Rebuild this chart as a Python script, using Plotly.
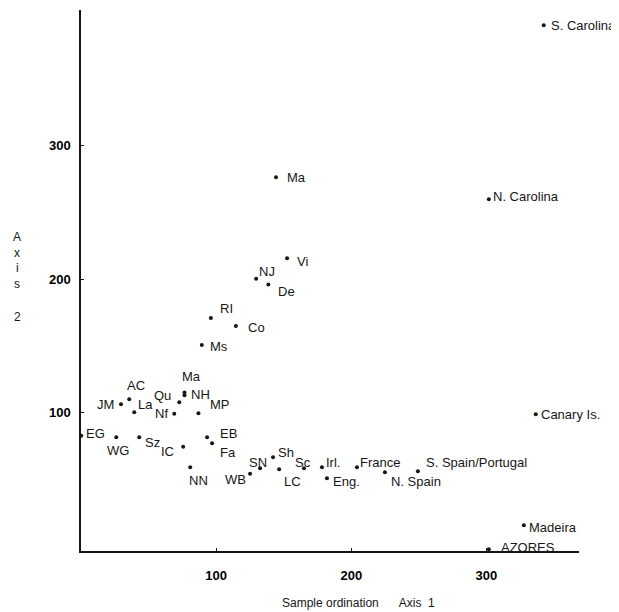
import plotly.graph_objects as go

# ---- data ----
sites = ["S. Carolina", "N. Carolina", "Canary Is.", "Madeira", "AZORES",
         "Ma", "Vi", "NJ", "De", "RI", "Co", "Ms",
         "JM", "AC", "La", "Qu", "Ma ", "NH", "Nf", "MP",
         "EG", "WG", "Sz", "IC", "EB", "Fa", "NN",
         "WB", "SN", "Sh", "LC", "Sc", "Irl.", "Eng.", "France", "N. Spain",
         "S. Spain/Portugal"]
axis1 = [342.4, 301.8, 336.5, 327.7, 301.8,
         144.3, 152.5, 129.6, 138.6, 96.1, 114.6, 89.4,
         29.6, 35.7, 39.4, 72.7, 76.6, 76.6, 69.0, 86.9,
         0.2, 26.1, 43.1, 75.6, 93.3, 97.0, 80.8,
         125.1, 132.5, 142.1, 146.6, 165.0, 178.3, 182.0, 204.2, 224.9,
         249.3]
axis2 = [390.5, 260.0, 98.6, 15.4, -2.6,
         276.4, 215.7, 200.4, 196.0, 170.9, 164.9, 150.6,
         106.1, 109.9, 100.1, 107.6, 114.9, 112.9, 99.0, 99.4,
         82.5, 81.4, 81.4, 74.3, 81.4, 76.9, 58.9,
         54.0, 58.1, 66.4, 57.4, 58.1, 58.9, 50.6, 58.9, 55.1,
         55.9]
x_ticks = [100, 200, 300]
y_ticks = [100, 200, 300]

# ---- label placement (style only): anchor, x shift px, y shift px ----
label_pos = {
    "S. Carolina": ("left", 5, 0), "N. Carolina": ("left", 2, 3),
    "Canary Is.": ("left", 3, 0), "Madeira": ("left", 3, -2),
    "AZORES": ("left", 10, 2), "Ma": ("left", 9, 0), "Vi": ("left", 8, -3),
    "NJ": ("left", 1, 7), "De": ("left", 8, -7), "RI": ("left", 7, 9),
    "Co": ("left", 10, -2), "Ms": ("left", 6, -2), "JM": ("right", -5, 0),
    "AC": ("center", 7, 14), "La": ("left", 2, 8), "Qu": ("right", -6, 7),
    "Ma ": ("center", 7, 16), "NH": ("left", 4, 1), "Nf": ("right", -4, 0),
    "MP": ("left", 10, 9), "EG": ("left", 3, 2), "WG": ("center", 2, -13),
    "Sz": ("left", 4, -5), "IC": ("right", -7, -5), "EB": ("left", 11, 4),
    "Fa": ("left", 6, -9), "NN": ("center", 8, -13), "WB": ("right", -2, -6),
    "SN": ("center", -2, 6), "Sh": ("left", 3, 5), "LC": ("center", 13, -12),
    "Sc": ("center", -1, 6), "Irl.": ("left", 2, 5), "Eng.": ("left", 4, -3),
    "France": ("left", 1, 5), "N. Spain": ("left", 4, -9),
    "S. Spain/Portugal": ("left", 6, 9),
}

FONT = "Liberation Sans, Arial, Helvetica, sans-serif"
INK = "#161616"

fig = go.Figure()
fig.add_trace(go.Scatter(
    x=axis1, y=axis2, mode="markers",
    marker=dict(size=4, color=INK),
    hovertext=[s.strip() for s in sites], hoverinfo="text",
    cliponaxis=False, showlegend=False,
))

annotations = []
for name, xv, yv in zip(sites, axis1, axis2):
    anchor, dx, dy = label_pos[name]
    annotations.append(dict(
        x=xv, y=yv, xref="x", yref="y", text=name.strip(), showarrow=False,
        xanchor=anchor, yanchor="middle", xshift=dx, yshift=dy,
        font=dict(family=FONT, size=13, color=INK),
    ))

# axis titles (positions relative to the plot area, in window pixels)
annotations.append(dict(
    x=(358 - 80.7) / 498.3, y=(551 - 603) / 541, xref="paper", yref="paper",
    text="Sample ordination&nbsp;&nbsp;&nbsp;&nbsp;&nbsp;&nbsp;Axis&nbsp;&nbsp;1",
    showarrow=False, xanchor="center", yanchor="middle",
    font=dict(family=FONT, size=12, color=INK),
))
for ch, py in zip(["A", "x", "i", "s", "2"], [237, 253, 268, 284, 317]):
    annotations.append(dict(
        x=(17 - 80.7) / 498.3, y=(551 - py) / 541, xref="paper", yref="paper",
        text=ch, showarrow=False, xanchor="center", yanchor="middle",
        font=dict(family=FONT, size=12, color=INK),
    ))

# page body has an 8px margin: size/margins compensate so the plot area
# lands where it does in the reference
fig.update_layout(
    width=611, height=604,
    margin=dict(l=73, r=40, t=2, b=61),
    paper_bgcolor="white", plot_bgcolor="white",
    annotations=annotations,
    xaxis=dict(
        range=[0, 368.5], tickvals=x_ticks, ticktext=[str(v) for v in x_ticks],
        showgrid=False, zeroline=False, showline=True, linecolor=INK,
        linewidth=1.5, ticks="inside", ticklen=3, tickcolor=INK,
        tickfont=dict(family=FONT, size=13, color="#000", weight="bold"),
        ticklabelstandoff=12,
    ),
    yaxis=dict(
        range=[-4, 402], tickvals=y_ticks, ticktext=[str(v) for v in y_ticks],
        showgrid=False, zeroline=False, showline=True, linecolor=INK,
        linewidth=1.5, ticks="inside", ticklen=3, tickcolor=INK,
        tickfont=dict(family=FONT, size=13, color="#000", weight="bold"),
        ticklabelstandoff=6,
    ),
)

fig.write_html("out.html", config={"displayModeBar": False})
